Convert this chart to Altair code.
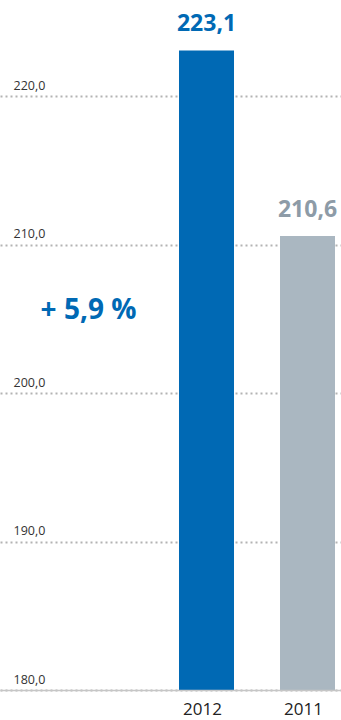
import altair as alt
import pandas as pd

years = ["2012", "2011"]
values = [223.1, 210.6]
value_labels = ["223,1", "210,6"]
bar_colors = ["#0069b4", "#aab7c1"]
label_colors = ["#0069b4", "#8d9ba7"]
y_ticks = [180, 190, 200, 210, 220]
change_text = "+ 5,9 %"

df = pd.DataFrame({"year": years, "value": values, "label": value_labels,
                   "bar_color": bar_colors, "label_color": label_colors})

FONT = "Open Sans"
y_scale = alt.Scale(domain=[180, 226.5], nice=False, zero=False)
x_scale = alt.Scale(type="band", domain=years, paddingInner=0.4554, paddingOuter=0.9158, align=0.9676)

base = alt.Chart(df)

bars = base.mark_bar().encode(
    x=alt.X("year:N", scale=x_scale, sort=years,
            axis=alt.Axis(title=None, labelFont=FONT, labelFontSize=17, labelColor="#222222",
                          ticks=False, domain=True, domainColor="#c6c6c6", domainWidth=1.5,
                          labelPadding=11, labelAngle=0, labelOffset=-4, grid=False, zindex=1)),
    y=alt.Y("value:Q", scale=y_scale,
            axis=alt.Axis(title=None, values=y_ticks,
                          labelExpr="replace(format(datum.value, '.1f'), '.', ',')",
                          labelFont=FONT, labelFontSize=12.5, labelColor="#333333",
                          labelAlign="left", labelBaseline="alphabetic",
                          labelPadding=-13, labelOffset=-7, ticks=False, domain=False,
                          grid=True, gridColor="#b3b3b3", gridDash=[2, 3], gridWidth=2)),
    y2=alt.datum(180),
    color=alt.Color("bar_color:N", scale=None),
)

value_text = base.mark_text(font=FONT, fontSize=23, fontWeight="bold", baseline="alphabetic", dy=-19).encode(
    x=alt.X("year:N", scale=x_scale, sort=years),
    y=alt.Y("value:Q", scale=y_scale),
    text="label:N",
    color=alt.Color("label_color:N", scale=None),
)

change = alt.Chart(pd.DataFrame({"t": [change_text]})).mark_text(
    font=FONT, fontSize=28, fontWeight="bold", color="#0069b4", align="center", baseline="middle"
).encode(x=alt.value(88.5), y=alt.value(311), text="t:N")

chart = alt.layer(bars, value_text, change).properties(
    width=341, height=690,
    autosize=alt.AutoSizeParams(type="none"),
    padding={"top": 0, "left": 0, "right": 0, "bottom": 30},
).configure_view(stroke=None)

chart.save("out.html", embed_options={"renderer": "svg", "actions": False})
